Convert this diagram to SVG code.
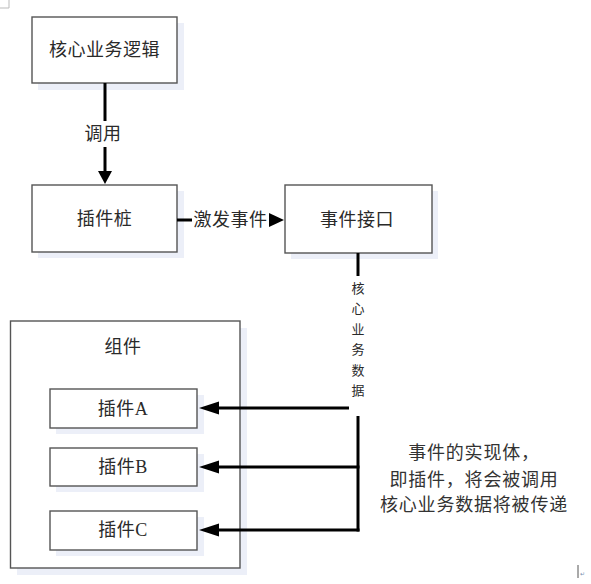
<svg xmlns="http://www.w3.org/2000/svg" width="591" height="584" viewBox="0 0 591 584">
<defs>
<style>
.box{fill:#ffffff;stroke:#555555;stroke-width:1.4}
.shadow{fill:#eceff8}
.t{font-family:"Liberation Serif","Noto Sans CJK SC",serif;font-size:18px;fill:#2a2a2a;text-anchor:middle;dominant-baseline:central;letter-spacing:0.5px}
.vt{font-family:"Noto Sans CJK SC",sans-serif;font-size:13px;fill:#2a2a2a;text-anchor:middle;dominant-baseline:central}
.note{font-family:"Noto Sans CJK SC",sans-serif;font-size:18px;fill:#333333;text-anchor:middle;dominant-baseline:central;letter-spacing:0.8px}
.ln{stroke:#000000;stroke-width:3;fill:none}
.ah{fill:#000000}
</style>
</defs>
<rect width="591" height="584" fill="#ffffff"/>
<!-- corner mark -->
<path d="M0 8 H9 V0" fill="none" stroke="#bbbbbb" stroke-width="1"/>

<g id="node-logic">
<rect class="shadow" x="38" y="23" width="146" height="67"/>
<rect class="box" x="32" y="17" width="145" height="66"/>
<text class="t" x="104.5" y="50">核心业务逻辑</text>
</g>

<g id="node-stub">
<rect class="shadow" x="38" y="191" width="146" height="67"/>
<rect class="box" x="32" y="185" width="145" height="67"/>
<text class="t" x="104.5" y="219">插件桩</text>
</g>

<g id="node-interface">
<rect class="shadow" x="291" y="191" width="147" height="68"/>
<rect class="box" x="285" y="185" width="147" height="68"/>
<text class="t" x="357" y="220">事件接口</text>
</g>

<g id="node-component">
<rect class="shadow" x="17" y="328" width="230" height="247"/>
<rect class="box" x="10.5" y="321" width="229.5" height="247"/>
<text class="t" x="123" y="347">组件</text>
</g>

<g id="node-pluginA">
<rect class="shadow" x="56" y="395" width="148" height="39"/>
<rect class="box" x="50" y="389" width="147" height="39"/>
<text class="t" x="123" y="409">插件A</text>
</g>

<g id="node-pluginB">
<rect class="shadow" x="56" y="454" width="148" height="38"/>
<rect class="box" x="50" y="448" width="147" height="38"/>
<text class="t" x="123" y="467">插件B</text>
</g>

<g id="node-pluginC">
<rect class="shadow" x="56" y="517" width="148" height="39"/>
<rect class="box" x="50" y="511" width="147" height="39"/>
<text class="t" x="123" y="530">插件C</text>
</g>

<g id="connectors">
<!-- 调用 -->
<line class="ln" x1="105" y1="83" x2="105" y2="121"/>
<line class="ln" x1="105" y1="147" x2="105" y2="173"/>
<polygon class="ah" points="98,171 112,171 105,184"/>
<text class="t" x="103" y="134">调用</text>
<!-- 激发事件 -->
<line class="ln" x1="177" y1="220" x2="192" y2="220"/>
<polygon class="ah" points="269,213 269,227 284,220"/>
<text class="t" x="230.5" y="220">激发事件</text>
<!-- 核心业务数据 -->
<line class="ln" x1="358" y1="253" x2="358" y2="276"/>
<text class="vt" x="358" y="287">核</text>
<text class="vt" x="358" y="307">心</text>
<text class="vt" x="358" y="328">业</text>
<text class="vt" x="358" y="348">务</text>
<text class="vt" x="358" y="369">数</text>
<text class="vt" x="358" y="389">据</text>
<line class="ln" x1="349" y1="408" x2="216" y2="408"/>
<polygon class="ah" points="219,401.5 219,414.5 199,408"/>
<line class="ln" x1="358" y1="416" x2="358" y2="531.5"/>
<line class="ln" x1="359.5" y1="467" x2="216" y2="467"/>
<polygon class="ah" points="219,460.5 219,473.5 199,467"/>
<line class="ln" x1="359.5" y1="530" x2="216" y2="530"/>
<polygon class="ah" points="219,523.5 219,536.5 199,530"/>
</g>

<g id="note">
<text class="note" x="474" y="451">事件的实现体，</text>
<text class="note" x="474" y="478">即插件，将会被调用</text>
<text class="note" x="474" y="503">核心业务数据将被传递</text>
</g>

<!-- paragraph mark -->
<line x1="578" y1="565" x2="578" y2="578" stroke="#555555" stroke-width="1"/>
<text x="580" y="576" font-family="DejaVu Sans, sans-serif" font-size="6" fill="#7a8fb0">↵</text>
</svg>
